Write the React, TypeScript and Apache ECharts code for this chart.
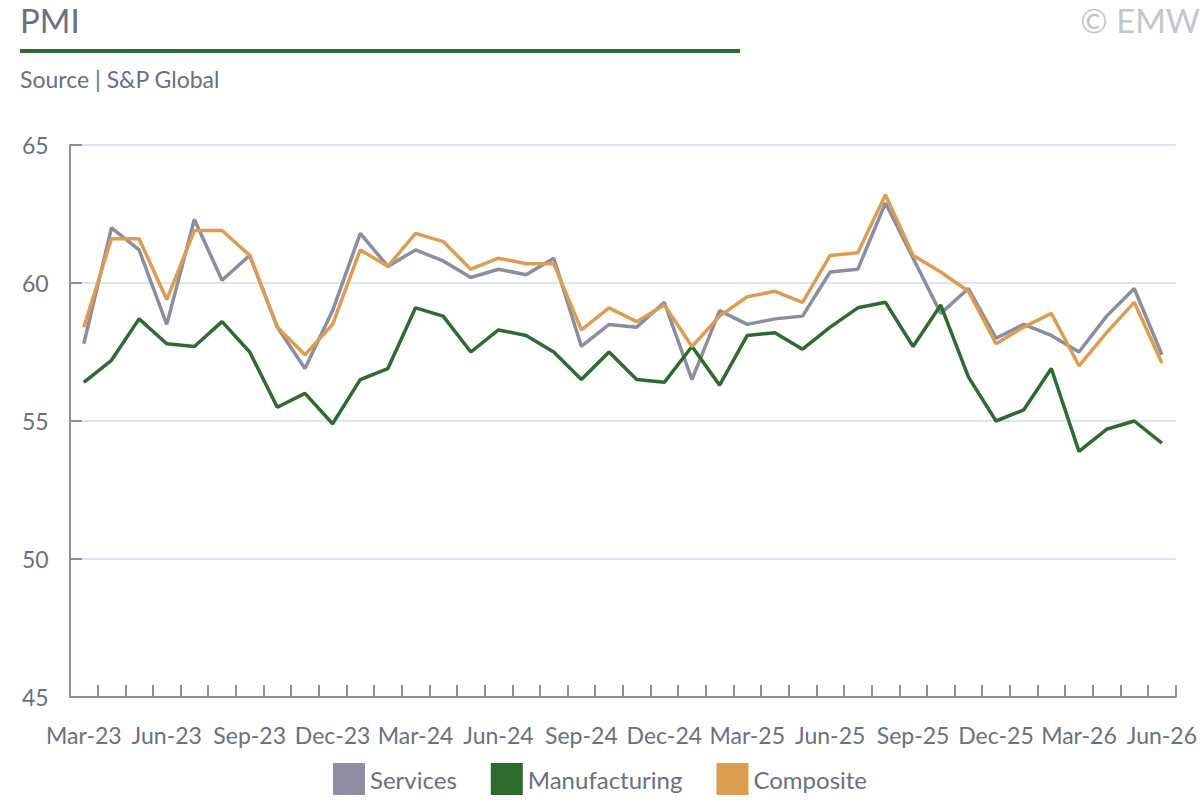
import { useEffect, useRef } from 'react';
import * as echarts from 'echarts';

const months = [
  'Mar-23', 'Apr-23', 'May-23', 'Jun-23', 'Jul-23', 'Aug-23', 'Sep-23', 'Oct-23', 'Nov-23', 'Dec-23',
  'Jan-24', 'Feb-24', 'Mar-24', 'Apr-24', 'May-24', 'Jun-24', 'Jul-24', 'Aug-24', 'Sep-24', 'Oct-24',
  'Nov-24', 'Dec-24', 'Jan-25', 'Feb-25', 'Mar-25', 'Apr-25', 'May-25', 'Jun-25', 'Jul-25', 'Aug-25',
  'Sep-25', 'Oct-25', 'Nov-25', 'Dec-25', 'Jan-26', 'Feb-26', 'Mar-26', 'Apr-26', 'May-26', 'Jun-26'
];

const services = [
  57.8, 62.0, 61.2, 58.5, 62.3, 60.1, 61.0, 58.4, 56.9, 59.0,
  61.8, 60.6, 61.2, 60.8, 60.2, 60.5, 60.3, 60.9, 57.7, 58.5,
  58.4, 59.3, 56.5, 59.0, 58.5, 58.7, 58.8, 60.4, 60.5, 62.9,
  60.9, 58.9, 59.8, 58.0, 58.5, 58.1, 57.5, 58.8, 59.8, 57.4
];

const manufacturing = [
  56.4, 57.2, 58.7, 57.8, 57.7, 58.6, 57.5, 55.5, 56.0, 54.9,
  56.5, 56.9, 59.1, 58.8, 57.5, 58.3, 58.1, 57.5, 56.5, 57.5,
  56.5, 56.4, 57.7, 56.3, 58.1, 58.2, 57.6, 58.4, 59.1, 59.3,
  57.7, 59.2, 56.6, 55.0, 55.4, 56.9, 53.9, 54.7, 55.0, 54.2
];

const composite = [
  58.4, 61.6, 61.6, 59.4, 61.9, 61.9, 61.0, 58.4, 57.4, 58.5,
  61.2, 60.6, 61.8, 61.5, 60.5, 60.9, 60.7, 60.7, 58.3, 59.1,
  58.6, 59.2, 57.7, 58.8, 59.5, 59.7, 59.3, 61.0, 61.1, 63.2,
  61.0, 60.4, 59.7, 57.8, 58.4, 58.9, 57.0, 58.2, 59.3, 57.1
];

const FONT = 'Lato';
const GREY = '#6b6f80';

export default function App() {
  const chartRef = useRef<HTMLDivElement>(null);

  useEffect(() => {
    document.body.style.margin = '0';
    if (!chartRef.current) return;
    const chart = echarts.init(chartRef.current, undefined, { renderer: 'svg' });

    const line = (name: string, data: number[], color: string) => ({
      name,
      type: 'line' as const,
      data,
      symbol: 'none',
      lineStyle: { color, width: 3.5 },
      itemStyle: { color },
    });

    chart.setOption({
      animation: false,
      textStyle: { fontFamily: FONT },
      graphic: [
        { type: 'text', left: 20, top: 3, style: { text: 'PMI', font: `33px ${FONT}`, fill: GREY } },
        { type: 'rect', shape: { x: 20, y: 49, width: 720, height: 4 }, style: { fill: '#2e6b2e' } },
        { type: 'text', left: 20, top: 67, style: { text: 'Source | S&P Global', font: `23px ${FONT}`, fill: GREY } },
        { type: 'text', right: 0, top: 3, style: { text: '© EMW', font: `33px ${FONT}`, fill: '#c4c6cc' } },
      ],
      legend: {
        bottom: 0,
        left: 'center',
        icon: 'rect',
        itemWidth: 32,
        itemHeight: 32,
        itemGap: 34,
        textStyle: { fontSize: 24, color: GREY, fontFamily: FONT },
        data: ['Services', 'Manufacturing', 'Composite'],
      },
      grid: { left: 70, right: 22, top: 145, bottom: 103 },
      xAxis: {
        type: 'category',
        data: months,
        boundaryGap: true,
        axisLine: { lineStyle: { color: '#8a8fa0', width: 2 } },
        axisTick: { show: true, interval: 0, inside: true, length: 12, lineStyle: { color: '#8a8fa0', width: 2 } },
        axisLabel: { interval: 2, fontSize: 23, color: GREY, margin: 26, fontFamily: FONT },
      },
      yAxis: {
        type: 'value',
        min: 45,
        max: 65,
        interval: 5,
        axisLine: { show: true, lineStyle: { color: '#8a8fa0', width: 2 } },
        axisTick: { show: true, inside: true, length: 12, lineStyle: { color: '#8a8fa0', width: 2 } },
        axisLabel: { fontSize: 23, color: GREY, align: 'left', margin: 48, fontFamily: FONT },
        splitLine: { lineStyle: { color: '#dce5f0', width: 2 } },
      },
      series: [
        line('Services', services, '#8a8ea0'),
        line('Manufacturing', manufacturing, '#2e6b2e'),
        line('Composite', composite, '#dd9d50'),
      ],
    });

    return () => chart.dispose();
  }, []);

  return <div ref={chartRef} style={{ width: 1200, height: 800 }} />;
}
